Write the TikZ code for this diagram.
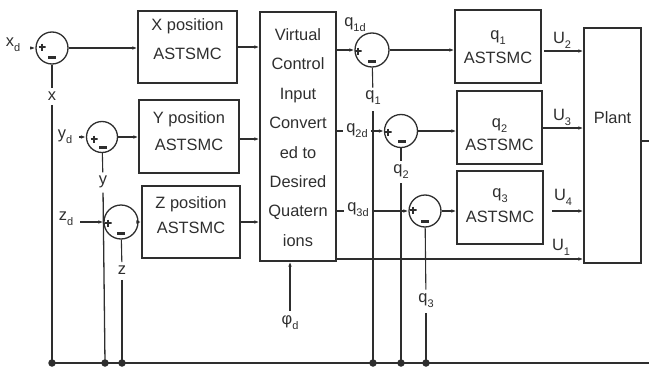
\documentclass[tikz,border=0pt]{standalone}
\usepackage{fontspec}
\setmainfont{Liberation Sans}
\usetikzlibrary{arrows.meta}
\newcommand\sbs[1]{\raisebox{-0.3em}{\fontsize{11}{11}\selectfont #1}}
\begin{document}
\begin{tikzpicture}[x=1pt,y=-1pt,
  line width=1.1pt, color=black!82,
  every node/.style={font=\fontsize{16.4}{18}\selectfont, inner sep=0pt},
  blk/.style={draw, line width=1.4pt, rectangle},
  txt/.style={align=center},
  sumc/.style={draw, circle, line width=1.3pt, inner sep=0pt, minimum size=#1},
  arr/.style={-{Latex[length=5pt,width=3.6pt]}},
  lab/.style={fill=white, inner xsep=3pt, inner ysep=1pt},
  dot/.style={circle, fill, inner sep=0pt, minimum size=7.5pt},
  pls/.style={inner sep=0pt, minimum size=7pt,
    path picture={\draw[line width=1.6pt]
      (path picture bounding box.west) -- (path picture bounding box.east)
      (path picture bounding box.north) -- (path picture bounding box.south);}},
  mns/.style={fill, inner sep=0pt, minimum width=7.5pt, minimum height=3pt}]
\useasboundingbox (0,0) rectangle (649,367);

% ---- blocks
\node[blk, minimum width=99, minimum height=72] (bx) at (187.5,47) {};
\node[txt, font=\fontsize{16.4}{29}\selectfont] (bxt) at (187.5,39.5) {X position\\ASTSMC};
\node[blk, minimum width=100, minimum height=73] (by) at (189,136.5) {};
\node[txt, font=\fontsize{16.4}{27}\selectfont] (byt) at (189,131) {Y position\\ASTSMC};
\node[blk, minimum width=98, minimum height=72] (bz) at (191,222) {};
\node[txt, font=\fontsize{16.4}{25}\selectfont] (bzt) at (191,215) {Z position\\ASTSMC};
\node[blk, minimum width=76, minimum height=249] (vc) at (298,136.5) {};
\node[txt, font=\fontsize{16.4}{29.4}\selectfont] (vct) at (298,137.5)
  {Virtual\\Control\\Input\\Convert\\ed to\\Desired\\Quatern\\ions};
\node[blk, minimum width=86, minimum height=73] (b1) at (498,46.5) {};
\node[txt, font=\fontsize{16.4}{24}\selectfont] (b1t) at (498,47) {q\sbs{1}\\ASTSMC};
\node[blk, minimum width=85, minimum height=73] (b2) at (499.5,127.5) {};
\node[txt, font=\fontsize{16.4}{23}\selectfont] (b2t) at (499.5,135) {q\sbs{2}\\ASTSMC};
\node[blk, minimum width=86, minimum height=73] (b3) at (500,207.5) {};
\node[txt, font=\fontsize{16.4}{25}\selectfont] (b3t) at (500,205.5) {q\sbs{3}\\ASTSMC};
\node[blk, minimum width=57, minimum height=235] (pl) at (612.5,145.5) {};
\node (plt) at (612.5,118) {Plant};

% ---- summing junctions
\node[sumc=32] (sx) at (52,48) {};
\node[sumc=31] (sy) at (102,137) {};
\node[sumc=34] (sz) at (121,222) {};
\node[sumc=34] (s1) at (372,50) {};
\node[sumc=33] (s2) at (401,131) {};
\node[sumc=32] (s3) at (425,211) {};
\foreach \c/\px/\py/\mx/\my in {sx/-10/1/0/-9, sy/-8/-2/1/-10, sz/-13/-1/0/-11,
    s1/-14/-1/0/-11, s2/-13/-1/1/-10, s3/-12/1/0/-10} {
  \node[pls] (\c-p) at ([xshift=\px pt,yshift=\py pt]\c.center) {};
  \node[mns] (\c-m) at ([xshift=\mx pt,yshift=\my pt]\c.center) {};
}

% ---- inputs
\node (xd) at (13,45) {x\sbs{d}};
\node (yd) at (65,137) {y\sbs{d}};
\node (zd) at (66,219) {z\sbs{d}};
\coordinate (xin) at (30,48);
\coordinate (yin) at (79,137);
\coordinate (zin) at (80,222);
\draw[arr] (xin) -- (sx);
\draw[arr] (yin) -- (sy);
\draw[arr] (zin) -- (sz);

% ---- forward paths
\draw[arr] (sx) -- (sx -| bx.west);
\draw[arr] (sy) -- (sy -| by.west);
\draw[arr] (sz) -- (sz -| bz.west);
\draw[arr] (bx.east) -- (bx.east -| vc.west);
\coordinate (ybo) at (239,139);
\coordinate (zbo) at (240,222);
\draw[arr] (ybo) -- (ybo -| vc.west);
\draw[arr] (zbo) -- (zbo -| vc.west);

% ---- quaternion references
\node (q1d) at (355,25) {q\sbs{1d}};
\draw[arr] (s1 -| vc.east) -- (s1);
\draw[arr] (s2 -| vc.east) -- (s2);
\node[lab] (q2d) at (357,131) {q\sbs{2d}};
\draw[arr] (s3 -| vc.east) -- (s3);
\node[lab] (q3d) at (358,210) {q\sbs{3d}};
\draw[arr] (s1) -- (s1 -| b1.west);
\draw[arr] (s2) -- (s2 -| b2.west);
\draw[arr] (s3) -- (s3 -| b3.west);

% ---- phi_d
\node (phid) at (290,323) {φ\sbs{d}};
\draw[arr, shorten <=5pt] (phid.north) -- (phid.north |- vc.south);

% ---- controls to plant
\coordinate (u2s) at (544,51);
\coordinate (u3s) at (542,128);
\coordinate (u4s) at (552,211);
\coordinate (u1s) at (336,259);
\draw[arr] (u2s) -- (u2s -| pl.west);
\draw[arr] (u3s) -- (u3s -| pl.west);
\draw[arr] (u4s) -- (u4s -| pl.west);
\draw[arr] (u1s) -- (u1s -| pl.west);
\node (U2) at (562,40) {U\sbs{2}};
\node (U3) at (562,117) {U\sbs{3}};
\node (U4) at (563,197) {U\sbs{4}};
\node (U1) at (561,247) {U\sbs{1}};
\coordinate (pout) at (649,141);
\draw (pout -| pl.east) -- (pout);

% ---- feedback
\node (xl) at (52,96) {x};
\node (yl) at (103,182) {y};
\node (zl) at (122,270) {z};
\node (q1l) at (373,98) {q\sbs{1}};
\node (q2l) at (401,172) {q\sbs{2}};
\node (q3l) at (426,301) {q\sbs{3}};
\coordinate (dx) at (52,363);
\coordinate (dy) at (105,363);
\coordinate (dz) at (122,363);
\coordinate (d1) at (373,363);
\coordinate (d2) at (401,363);
\coordinate (d3) at (426,363);
\coordinate (bend) at (649,363);
\draw[shorten >=3pt] (sx) -- (xl);
\draw[shorten >=3pt] (sy) -- (yl);
\draw[shorten >=3pt] (sz) -- (zl);
\draw[shorten >=3pt] (s1) -- (q1l);
\draw[shorten >=4pt] (s2) -- (q2l);
\draw[shorten >=4pt] (s3) -- (q3l);
\draw[line width=1.3pt, shorten <=4pt] (xl.south) -- (dx);
\draw[line width=1.3pt, shorten <=4pt] (yl.south) -- (dy);
\draw[line width=1.3pt, shorten <=5pt] (zl.south) -- (dz);
\draw[line width=1.3pt, shorten <=6pt] (q1l.south) -- (d1);
\draw[line width=1.3pt, shorten <=4pt] (q2l.south) -- (d2);
\draw[line width=1.3pt, shorten <=5pt] (q3l.south) -- (d3);
\draw[line width=2pt] (dx) -- (bend);
\foreach \d in {dx,dy,dz,d1,d2,d3} \node[dot] (\d-dot) at (\d) {};
\end{tikzpicture}
\end{document}
